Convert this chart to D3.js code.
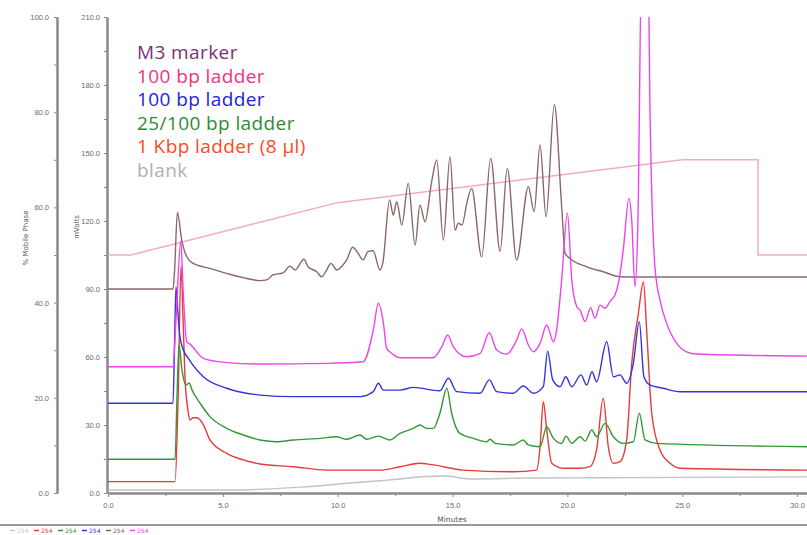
<!DOCTYPE html>
<html>
<head>
<meta charset="utf-8">
<script src="https://cdn.jsdelivr.net/npm/d3@7"></script>
<style>
  body { margin: 0; background: #fff; }
  svg { display: block; }
</style>
</head>
<body>
<div id="chart"></div>
<script>
// [minutes, mV]
var m3Marker = [[0,90.0],[2.83,90.0],[2.90,98.4],[3.02,123.8],[3.21,111.6],[3.43,104.2],[3.71,101.3],[4.44,99.1],
  [5.17,96.9],[5.88,95.0],[6.62,93.7],[6.91,94.0],[7.18,96.2],[7.62,97.1],[7.92,100.1],[8.14,98.4],[8.53,103.1],
  [8.71,99.8],[9.09,97.6],[9.30,95.4],[9.52,98.4],[9.70,101.3],[9.96,98.4],[10.23,100.6],[10.39,102.8],[10.65,108.4],
  [10.88,105.9],[11.10,102.8],[11.32,106.5],[11.54,106.9],[11.84,98.4],[11.96,101.3],[12.26,129.3],[12.42,122.6],
  [12.57,128.5],[12.79,118.2],[13.07,136.6],[13.37,109.4],[13.58,127.1],[13.80,119.7],[14.09,137.3],[14.31,146.9],
  [14.60,111.6],[14.89,148.4],[15.11,116.0],[15.25,119.0],[15.41,118.2],[15.62,127.8],[15.83,134.4],[16.27,104.2],
  [16.66,147.7],[17.07,106.5],[17.38,143.2],[17.79,102.8],[18.30,135.1],[18.55,124.1],[18.81,153.5],[19.07,121.9],
  [19.43,171.4],[19.75,126.3],[19.90,105.7],[20.11,103.5],[20.84,99.8],[21.56,97.6],[22.29,95.4],[23.16,95.3],[30.43,95.3]];

var ladder100a = [[0,55.7],[2.83,55.7],[2.96,76.3],[3.17,111.2],[3.27,89.6],[3.43,66.7],[3.57,65.7],[4.15,59.4],
  [5.17,57.5],[6.62,56.9],[9.52,57.2],[11.11,57.9],[11.55,71.9],[11.77,83.7],[11.99,74.9],[12.13,63.8],[12.28,62.2],
  [12.71,59.7],[14.16,59.7],[14.53,64.5],[14.79,69.7],[15.03,64.5],[15.62,60.1],[16.20,61.6],[16.60,70.7],[16.92,63.1],
  [17.36,61.3],[17.79,67.5],[18.01,72.4],[18.30,65.3],[18.52,62.3],[18.81,66.0],[19.10,74.1],[19.39,66.7],[19.53,71.9],
  [19.75,94.0],[20.00,123.4],[20.19,94.0],[20.41,82.2],[20.55,80.7],[20.77,75.6],[21.01,81.8],[21.20,77.1],[21.42,82.9],
  [21.64,81.5],[21.85,84.4],[22.07,87.4],[22.22,92.5],[22.43,107.2],[22.68,130.0],[22.80,120.4],[22.94,91.0],
  [23.07,120.0],[23.24,240],[23.50,240],[23.60,166.0],[23.81,99.8],[24.03,85.1],[24.32,74.9],[24.76,66.0],
  [25.19,62.3],[25.63,61.3],[30.43,60.4]];

var ladder100b = [[0,39.6],[2.83,39.6],[2.90,67.5],[2.96,90.9],[3.05,78.5],[3.13,69.0],[3.35,61.6],[3.50,59.4],
  [3.64,57.2],[4.15,51.3],[5.17,46.2],[6.62,43.2],[8.07,42.5],[10.97,42.5],[11.55,44.7],[11.77,48.4],[11.99,45.4],
  [12.71,45.4],[13.29,46.6],[14.45,45.1],[14.82,50.6],[15.18,44.7],[16.20,44.0],[16.60,49.9],[16.92,44.7],[17.64,44.0],
  [18.08,47.2],[18.52,44.0],[18.95,46.9],[19.14,62.6],[19.36,49.9],[19.68,46.9],[19.93,51.3],[20.19,46.9],[20.59,52.1],
  [20.84,47.6],[21.07,53.5],[21.27,49.1],[21.71,66.7],[22.00,51.3],[22.29,52.1],[22.58,48.4],[22.87,57.2],[23.13,75.6],
  [23.33,51.3],[23.60,47.6],[24.18,46.2],[24.90,44.7],[30.43,44.7]];

var ladder25 = [[0,14.9],[2.92,14.9],[3.00,41.0],[3.09,65.3],[3.22,54.3],[3.40,47.6],[3.53,48.5],[3.66,45.4],
  [4.01,39.6],[4.44,33.7],[5.17,28.5],[5.89,25.6],[6.62,23.4],[7.34,22.6],[8.07,23.4],[9.23,24.1],[9.96,24.8],
  [10.39,23.7],[10.97,25.6],[11.26,23.7],[11.77,25.1],[12.28,23.4],[12.71,26.3],[13.29,28.5],[13.58,30.0],[13.88,28.5],
  [14.16,28.5],[14.45,35.2],[14.75,46.2],[14.96,35.2],[15.32,26.3],[15.90,24.1],[16.49,22.6],[16.63,23.7],[16.85,21.9],
  [17.64,21.2],[18.08,23.4],[18.30,21.2],[18.81,20.4],[19.10,29.2],[19.39,24.1],[19.75,21.9],[19.94,25.1],[20.19,21.9],
  [20.55,24.8],[20.77,22.9],[21.06,27.8],[21.27,24.8],[21.64,30.7],[22.00,24.8],[22.43,21.9],[22.87,22.6],[23.13,35.2],
  [23.38,23.4],[23.89,21.9],[30.43,20.4]];

var ladder1k = [[0,5.0],[2.92,5.0],[3.05,41.0],[3.18,100.1],[3.27,76.3],[3.35,51.3],[3.48,36.6],[3.57,32.2],
  [3.71,33.2],[3.86,33.2],[4.15,30.2],[4.44,23.4],[5.17,17.5],[5.89,14.6],[6.62,12.8],[8.07,11.6],[9.52,10.1],
  [11.84,10.1],[12.71,11.6],[13.58,13.1],[14.16,12.4],[15.47,10.1],[17.64,9.4],[18.66,10.1],[18.81,20.4],[18.95,40.3],
  [19.10,27.8],[19.32,13.1],[19.82,10.9],[20.55,10.9],[20.98,11.6],[21.27,19.0],[21.56,41.8],[21.78,20.4],[22.00,13.1],
  [22.29,13.8],[22.58,23.4],[22.80,57.2],[23.09,79.3],[23.31,93.1],[23.45,71.9],[23.67,35.2],[24.03,19.0],[24.47,13.1],
  [24.90,10.9],[30.43,10.1]];

var blank = [[0,1.3],[5.31,1.3],[8.36,2.6],[10.54,4.4],[12.71,6.2],[13.80,7.3],[14.67,7.5],[15.76,6.2],[18.37,6.6],[30.43,7.1]];

// [minutes, % mobile phase]
var gradient = [[0,50],[1,50],[10,61],[25,70],[28.3,70],[28.3,50],[30.43,50]];

var legendNames = ['M3 marker', '100 bp ladder', '100 bp ladder', '25/100 bp ladder', '1 Kbp ladder (8 \u00b5l)', 'blank'];
var legendColors = ['#7a3272', '#f2327e', '#2222dd', '#2f8a36', '#ff4a22', '#b0b0b0'];
var minuteTicks = [0, 5, 10, 15, 20, 25, 30];
var mvTicks = [0, 30, 60, 90, 120, 150, 180, 210];
var pctTicks = [0, 20, 40, 60, 80, 100];
var chanColors = ['#c8c8c8', '#e83a3a', '#339933', '#3333dd', '#8a6464', '#ee44ee'];

var width = 807, height = 535;
var svg = d3.select('#chart').append('svg')
    .attr('width', width)
    .attr('height', height)
    .style('font-family', 'DejaVu Sans, sans-serif');

var xScale = d3.scaleLinear().domain([0, 30.43]).range([108, 807]);
var yScale = d3.scaleLinear().domain([0, 210]).range([493, 17]);
var pScale = d3.scaleLinear().domain([0, 100]).range([493, 17]);

function styleAxis(g) {
    g.select('.domain').attr('stroke', '#8a8a8a').attr('stroke-width', 2);
    g.selectAll('.tick line').attr('stroke', '#8a8a8a');
    g.selectAll('.tick text').attr('fill', '#6a6a6a').style('font-size', '7.5px');
}

// minor ticks first, then labelled ones
svg.append('g').attr('transform', 'translate(57,0)')
    .call(d3.axisLeft(pScale).tickValues(d3.range(10, 100, 20)).tickSize(3).tickFormat('').tickSizeOuter(0))
    .call(styleAxis);
svg.append('g').attr('transform', 'translate(57,0)')
    .call(d3.axisLeft(pScale).tickValues(pctTicks).tickSize(3).tickPadding(5).tickFormat(d3.format('.1f')).tickSizeOuter(0))
    .call(styleAxis);

svg.append('g').attr('transform', 'translate(107,0)')
    .call(d3.axisLeft(yScale).tickValues(d3.range(15, 210, 30)).tickSize(3).tickFormat('').tickSizeOuter(0))
    .call(styleAxis);
svg.append('g').attr('transform', 'translate(107,0)')
    .call(d3.axisLeft(yScale).tickValues(mvTicks).tickSize(3).tickPadding(4).tickFormat(d3.format('.1f')).tickSizeOuter(0))
    .call(styleAxis);

svg.append('g').attr('transform', 'translate(0,493)')
    .call(d3.axisBottom(xScale).tickValues(d3.range(2.5, 30, 5)).tickSize(3).tickFormat('').tickSizeOuter(0))
    .call(styleAxis);
svg.append('g').attr('transform', 'translate(0,493)')
    .call(d3.axisBottom(xScale).tickValues(minuteTicks).tickSize(4).tickPadding(6).tickFormat(d3.format('.1f')).tickSizeOuter(0))
    .call(styleAxis);

svg.append('text').attr('transform', 'translate(28,238) rotate(-90)')
    .attr('text-anchor', 'middle').style('font-size', '7px').attr('fill', '#555')
    .text('% Mobile Phase');
svg.append('text').attr('transform', 'translate(79,227) rotate(-90)')
    .attr('text-anchor', 'middle').style('font-size', '7px').attr('fill', '#555')
    .text('mVolts');
svg.append('text').attr('x', 452).attr('y', 522)
    .attr('text-anchor', 'middle').style('font-size', '7.5px').attr('fill', '#555')
    .text('Minutes');

svg.append('clipPath').attr('id', 'plotclip').append('rect')
    .attr('x', 108).attr('y', yScale(210)).attr('width', 700).attr('height', yScale(0) - yScale(210));

var plot = svg.append('g').attr('clip-path', 'url(#plotclip)');

var mvLine = d3.line()
    .x(function(d){ return xScale(d[0]); })
    .y(function(d){ return yScale(d[1]); })
    .curve(d3.curveMonotoneX);
var pctLine = d3.line()
    .x(function(d){ return xScale(d[0]); })
    .y(function(d){ return pScale(d[1]); });

var traces = [
    {data: blank, color: '#c4c4c4'},
    {data: ladder1k, color: '#e83a3a'},
    {data: ladder25, color: '#339933'},
    {data: ladder100b, color: '#3333dd'},
    {data: m3Marker, color: '#8a6868'},
    {data: ladder100a, color: '#ee44ee'}
];

plot.append('path').datum(gradient)
    .attr('d', pctLine)
    .attr('fill', 'none')
    .attr('stroke', '#f6a9c6')
    .attr('stroke-width', 1.5);

plot.selectAll('.trace').data(traces).enter().append('path')
    .attr('class', 'trace')
    .attr('d', function(d){ return mvLine(d.data); })
    .attr('fill', 'none')
    .attr('stroke', function(d){ return d.color; })
    .attr('stroke-width', 1.4);

// legend in the plot
svg.selectAll('.legend').data(legendNames).enter().append('text')
    .attr('class', 'legend')
    .attr('x', 137)
    .attr('y', function(d, i){ return 59 + i * 23.6; })
    .style('font-family', '"Open Sans", sans-serif')
    .style('font-size', '19px')
    .style('letter-spacing', '0.4px')
    .attr('fill', function(d, i){ return legendColors[i]; })
    .text(function(d){ return d; });

// footer strip
svg.append('line').attr('x1', 0).attr('x2', width).attr('y1', 525).attr('y2', 525)
    .attr('stroke', '#9a9a9a').attr('stroke-width', 2);

var chan = svg.selectAll('.chan').data(chanColors).enter().append('g')
    .attr('class', 'chan')
    .attr('transform', function(d, i){ return 'translate(' + (10 + i * 24) + ',530.5)'; });
chan.append('line').attr('x1', 0).attr('x2', 5).attr('y1', 0).attr('y2', 0)
    .attr('stroke', function(d){ return d; }).attr('stroke-width', 1.5);
chan.append('text').attr('x', 7).attr('y', 2.2)
    .style('font-size', '6px')
    .attr('fill', function(d){ return d; })
    .text('254');
</script>
</body>
</html>
